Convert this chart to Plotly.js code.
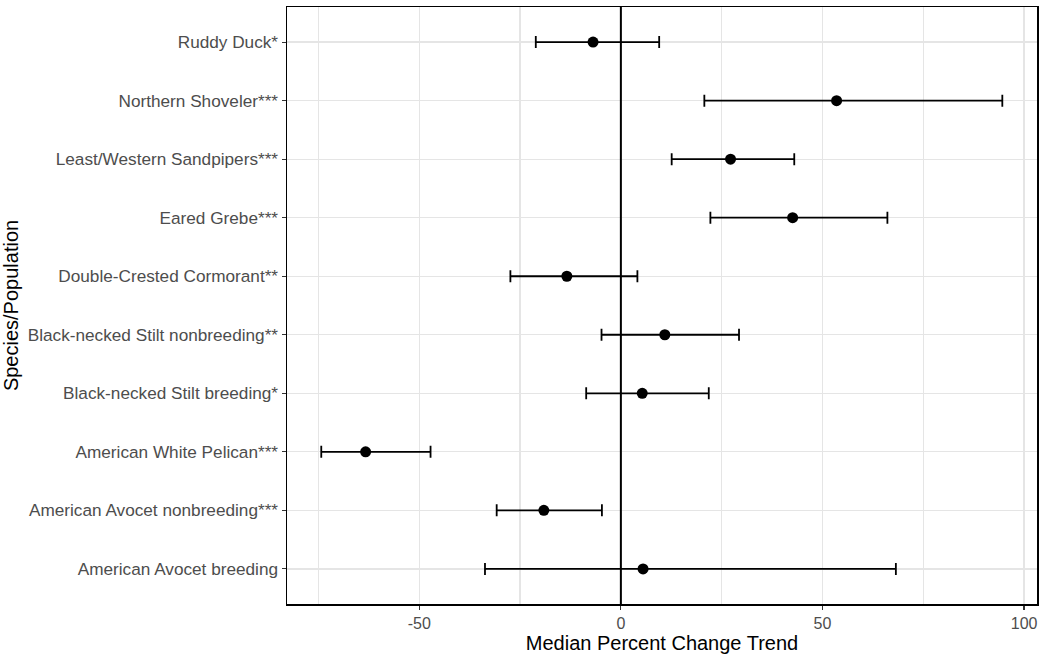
<!DOCTYPE html>
<html>
<head>
<meta charset="utf-8">
<script src="https://cdn.plot.ly/plotly-3.0.1.min.js"></script>
<style>html,body{margin:0;padding:0;background:#fff;}#chart{width:1043px;height:658px;}</style>
</head>
<body>
<div id="chart"></div>
<script>
// Categories from bottom to top
var species = [
  "American Avocet breeding",
  "American Avocet nonbreeding***",
  "American White Pelican***",
  "Black-necked Stilt breeding*",
  "Black-necked Stilt nonbreeding**",
  "Double-Crested Cormorant**",
  "Eared Grebe***",
  "Least/Western Sandpipers***",
  "Northern Shoveler***",
  "Ruddy Duck*"
];
var median = [5.5, -19.1, -63.3, 5.3, 10.9, -13.4, 42.6, 27.2, 53.5, -6.9];
var lower  = [-33.7, -30.8, -74.3, -8.6, -4.8, -27.4, 22.2, 12.6, 20.7, -21.1];
var upper  = [68.2, -4.7, -47.2, 21.8, 29.3, 4.1, 66.1, 43.0, 94.6, 9.5];
var xTicks = [-50, 0, 50, 100];

var plus = upper.map(function(u, i){ return u - median[i]; });
var minus = median.map(function(m, i){ return m - lower[i]; });

var trace = {
  type: "scatter",
  mode: "markers",
  x: median,
  y: species,
  marker: {color: "#000000", size: 11},
  error_x: {
    type: "data",
    symmetric: false,
    array: plus,
    arrayminus: minus,
    color: "#000000",
    thickness: 1.8,
    width: 6
  },
  hoverinfo: "x+y"
};

var layout = {
  width: 1043,
  height: 658,
  margin: {l: 287, r: 6, t: 7, b: 54},
  paper_bgcolor: "#ffffff",
  plot_bgcolor: "#ffffff",
  showlegend: false,
  font: {family: "Liberation Sans, Arial, sans-serif", color: "#000000"},
  shapes: [{
    type: "line", xref: "x", yref: "paper",
    x0: 0, x1: 0, y0: 0, y1: 1,
    line: {color: "#000000", width: 2},
    layer: "above"
  }],
  xaxis: {
    range: [-82.8, 103.2],
    tickvals: xTicks,
    ticktext: xTicks.map(String),
    ticks: "outside",
    ticklen: 4,
    tickwidth: 1.2,
    tickcolor: "#333333",
    tickfont: {size: 16, color: "#4d4d4d"},
    showgrid: true,
    gridcolor: "#e5e5e5",
    gridwidth: 1.3,
    minor: {dtick: 25, tick0: 0, showgrid: true, gridcolor: "#e5e5e5", gridwidth: 1.3, ticks: ""},
    zeroline: false,
    showline: true,
    mirror: true,
    linecolor: "#000000",
    linewidth: 1.5,
    title: {text: "Median Percent Change Trend", font: {size: 20, color: "#000000"}, standoff: 4}
  },
  yaxis: {
    type: "category",
    categoryorder: "array",
    categoryarray: species,
    range: [-0.6, 9.6],
    ticks: "outside",
    ticklen: 4,
    tickwidth: 1.2,
    tickcolor: "#333333",
    tickfont: {size: 17.2, color: "#4d4d4d"},
    showgrid: true,
    gridcolor: "#e5e5e5",
    gridwidth: 1.3,
    zeroline: false,
    showline: true,
    mirror: true,
    linecolor: "#000000",
    linewidth: 1.5,
    title: {text: "Species/Population", font: {size: 20, color: "#000000"}, standoff: 4}
  }
};

Plotly.newPlot("chart", [trace], layout, {displayModeBar: false, staticPlot: true});
</script>
</body>
</html>
